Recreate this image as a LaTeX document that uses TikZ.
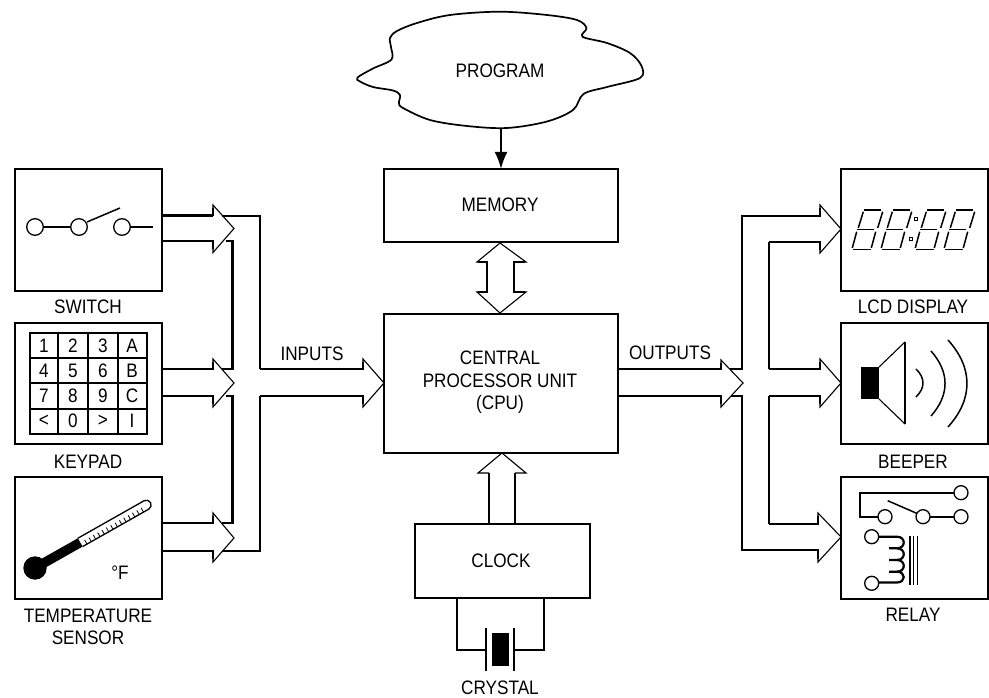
\documentclass[tikz,border=0pt]{standalone}
\usepackage{fontspec}
\setmainfont[FakeStretch=0.88]{Liberation Sans}
\usetikzlibrary{arrows.meta,calc}
\tikzset{
  boxy/.style={draw,line width=2.6pt,inner sep=0pt,outer sep=0pt,fill=white},
  lbl/.style={inner sep=0pt,outer sep=0pt,font=\fontsize{19.5}{22.5}\selectfont,align=center},
  bus/.style={line width=2.5pt,line cap=butt,line join=miter},
  hd/.style={line width=1.1pt,line join=miter},
  sym/.style={line width=2.2pt},
  thinsym/.style={line width=1.5pt},
  ring/.style={line width=1.3pt,fill=white},
  grid/.style={line width=1.2pt}
}
\newcommand{\boxnode}[5]{\node[boxy,minimum width={(#4-#2)*1pt},minimum height={(#5-#3)*1pt}] (#1) at ({(#2+#4)/2},{(#3+#5)/2}) {};}
% source, xback, yshaft-top, yshaft-bot, headtop, tip, headbot
\newcommand{\barrow}[7]{%
  \draw[bus] (#1 |- 0,#3) -- (#2,#3);
  \draw[bus] (#1 |- 0,#4) -- (#2,#4);
  \draw[hd] (#2,#3) -- (#2,#5) -- (#6) -- (#2,#7) -- (#2,#4);
  \draw[line width=1.8pt] (#2,#3+1) -- (#2,#5+3);
  \draw[line width=1.8pt] (#2,#4-1) -- (#2,#7-3);
}
\newcommand{\lcddigit}[1]{%
  \begin{scope}[xshift=#1pt,line width=1.5pt]
    \draw (864,210) -- (881,210);
    \draw (857,229.5) -- (874,229.5);
    \draw (853,249.3) -- (871,249.3);
    \draw (863.3,211.7) -- (858.3,228);
    \draw (882.7,211.7) -- (877.7,228);
    \draw (856.7,231.7) -- (852.3,248);
    \draw (875.7,231.7) -- (871.3,248);
  \end{scope}}
\begin{document}
\begin{tikzpicture}[x=1pt,y=-1pt]
\useasboundingbox (0,0) rectangle (989,698);
% boxes
\boxnode{sw}{15}{169}{162}{291}
\boxnode{kp}{15}{323}{162}{444}
\boxnode{ts}{15}{477}{162}{599}
\boxnode{mem}{384}{169}{618}{242}
\boxnode{cpu}{384}{314}{618}{453}
\boxnode{clk}{415}{524}{590}{598}
\boxnode{lcd}{841}{169}{988}{291}
\boxnode{bp}{841}{323}{988}{444}
\boxnode{rl}{841}{477}{988}{599}
% cloud
\draw[line width=1.7pt,fill=white] plot[smooth cycle,tension=0.55] coordinates {
 (357.5,77.5) (373,68.5) (391.5,59.5) (391,47) (390,38) (397,31) (417,23) (450,15) (500,11.7)
 (547,15) (577,20) (586.5,28) (582.5,36.7) (607,43) (630,53) (641.5,66) (640,78)
 (607,87) (583.5,94) (573,110) (547,121.5) (507,128) (467,126) (430,120) (403,108) (399,103) (400,95) (393,90.5) (373,87) (360,81.5)};
\node[lbl] (prog) at (500,70.5) {PROGRAM};
\coordinate (cloudbot) at (501,128);
\draw[line width=2.2pt,-{Latex[length=17pt,width=13pt]}] (cloudbot) -- (cloudbot |- mem.north);
% input arrows
\barrow{sw.east}{213}{215.5}{241}{205}{234,228.5}{252.5}
\barrow{kp.east}{213}{369}{396}{359}{234,383}{407}
\barrow{ts.east}{213}{523}{551}{513}{234,538}{562}
\barrow{260,0}{363}{369}{396}{359}{cpu.west |- 0,383}{407}
% bus wires in
\coordinate (oi1) at (222,216);
\coordinate (oi2) at (260,216);
\coordinate (oi3) at (260,369);
\coordinate (oi4) at (260,396);
\coordinate (oi5) at (260,551);
\coordinate (oi6) at (222,551);
\coordinate (ii1) at (226,241);
\coordinate (ii2) at (232.7,241);
\coordinate (ii3) at (232.7,369);
\coordinate (ii4) at (222,369);
\coordinate (ii5) at (226,396);
\coordinate (ii6) at (232.7,396);
\coordinate (ii7) at (232.7,523);
\coordinate (ii8) at (222,523);
\draw[bus] (oi1) -- (oi2) -- (oi3);
\draw[bus] (oi4) -- (oi5) -- (oi6);
\draw[bus] (ii1) -- (ii2) -- (ii3) -- (ii4);
\draw[bus] (ii5) -- (ii6) -- (ii7) -- (ii8);
% output arrows
\barrow{cpu.east}{721}{369}{396}{360}{743,383}{407}
\barrow{769,0}{820}{369}{396}{359}{bp.west |- 0,383}{407}
\barrow{769,0}{820}{216}{242}{205}{lcd.west |- 0,229}{253}
\barrow{769,0}{818}{524}{550}{513}{rl.west |- 0,537}{562}
\coordinate (oo1) at (730,369);
\coordinate (oo2) at (742,369);
\coordinate (oo3) at (742,216);
\coordinate (oo4) at (731,396);
\coordinate (oo5) at (742,396);
\coordinate (oo6) at (742,550);
\coordinate (oi7) at (769,242);
\coordinate (oi8) at (769,369);
\coordinate (oi9) at (769,396);
\coordinate (oi10) at (769,524);
\draw[bus] (oo1) -- (oo2) -- (oo3) -- (770,216);
\draw[bus] (oo4) -- (oo5) -- (oo6) -- (770,550);
\draw[bus] (oi7) -- (oi8);
\draw[bus] (oi9) -- (oi10);
% memory-cpu double arrow
\draw[hd] (500,243) -- (477,262) -- (487,262);
\draw[hd] (500,243) -- (526,262) -- (514,262);
\draw[hd] (500,313) -- (477,292) -- (487,292);
\draw[hd] (500,313) -- (526,292) -- (514,292);
\draw[bus] (478,262) -- (487,262) -- (487,292) -- (478,292);
\draw[bus] (525,262) -- (514,262) -- (514,292) -- (525,292);
% clock arrow
\draw[hd] (489,473) -- (478,473) -- (502,453) -- (526,473) -- (515,473);
\draw[bus] (489,473) -- (489,524);
\draw[bus] (515,473) -- (515,524);
% crystal
\coordinate (xl) at (457,598);
\coordinate (xr) at (544,598);
\draw[bus] (xl) -- (457,650) -- (486,650);
\draw[bus] (xr) -- (544,650) -- (514,650);
\draw[bus] (486,628) -- (486,671);
\draw[bus] (514,628) -- (514,671);
\fill (492,633) rectangle (509,666);
% text
\node[lbl] (memt) at (500,205) {MEMORY};
\node[lbl] (cput) at (500,382.5) {CENTRAL\\PROCESSOR UNIT\\(CPU)};
\node[lbl] (clkt) at (501,561) {CLOCK};
\node[lbl] (cryt) at (500,688) {CRYSTAL};
\node[lbl] (int) at (312,354) {INPUTS};
\node[lbl] (outt) at (670,353) {OUTPUTS};
\node[lbl] (swt) at (88,307) {SWITCH};
\node[lbl] (kpt) at (88,462) {KEYPAD};
\node[lbl] (tst) at (88,627) {TEMPERATURE\\SENSOR};
\node[lbl] (lcdt) at (913,307) {LCD DISPLAY};
\node[lbl] (bpt) at (913,462) {BEEPER};
\node[lbl] (rlt) at (913,615) {RELAY};
% switch symbol
\draw[sym] (43,227) -- (71,227);
\draw[sym] (131,227) -- (153,227);
\draw[thinsym] (87,222) -- (120,208);
\draw[ring] (35,227) circle (8.3);
\draw[ring] (79,227) circle (8.3);
\draw[ring] (122,227) circle (8.3);
% keypad
\draw[grid] (58,333) -- (58,434) (88,333) -- (88,434) (118,333) -- (118,434);
\draw[grid] (30,358) -- (147,358) (30,383) -- (147,383) (30,409) -- (147,409);
\draw[line width=2.2pt] (30,333) rectangle (147,434);
\foreach \t/\x/\y in {1/44/346,2/73/346,3/103/346,A/132/346,
  4/44/371,5/73/371,6/103/371,B/132/371,
  7/44/396,8/73/396,9/103/396,C/132/396,
  </44/421,0/73/421,>/103/421,I/132/421}
  \node[lbl] at (\x,\y) {\t};
% thermometer
\begin{scope}[shift={(35,568)},rotate=29.5]
  \draw[line width=1.3pt,fill=white] (52,-4.8) -- (128,-4.8) arc[start angle=-90,end angle=90,radius=4.8] -- (52,4.8);
  \fill (0,-4.8) rectangle (52,4.8);
  \foreach \s in {57,62,...,123} \draw[line width=0.8pt] (\s,5) -- (\s,0);
\end{scope}
\fill (35,568) circle (11.7);
\node[lbl] (deg) at (120,573) {°F};
% LCD
\lcddigit{0}
\lcddigit{29}
\lcddigit{63}
\lcddigit{92}
\draw[line width=1pt] (914.5,217.5) rectangle +(3,3);
\draw[line width=1pt] (909.5,237.2) rectangle +(3,3);
% beeper
\fill (861,367) rectangle (879,399);
\draw[line width=1.1pt] (879,367) -- (905,342);
\draw[line width=1.1pt] (879,399) -- (905,424);
\draw[line width=1.5pt] (905,342) -- (905,424);
\draw[line width=1.5pt] (916,369) .. controls (925.3,378) and (925.3,388) .. (916,397);
\draw[line width=1.5pt] (931,351) .. controls (949.7,372) and (949.7,395) .. (931,416);
\draw[line width=1.5pt] (948,340) .. controls (973.3,368) and (973.3,399) .. (948,427);
% relay
\draw[sym] (954,492.7) -- (860,492.7) -- (860,516.7) -- (878,516.7);
\draw[sym] (930,516.7) -- (954,516.7);
\draw[thinsym] (887.7,500.7) -- (916.7,513.3);
\draw[sym] (878,536.7) -- (897,536.7) .. controls (906,536.7) and (906,548.3) .. (897,548.3) -- (889,548.3);
\draw[sym] (897,548.3) .. controls (906,548.3) and (906,560) .. (897,560) -- (889,560);
\draw[sym] (897,560) .. controls (906,560) and (906,571.7) .. (897,571.7) -- (889,571.7);
\draw[sym] (897,571.7) .. controls (906,571.7) and (906,582.5) .. (897,582.5) -- (878,582.5);
\draw[line width=1.3pt] (910,536) -- (910,585) (913.7,536) -- (913.7,585) (917.3,536) -- (917.3,585);
\foreach \x/\y in {961/492.7,961/516.7,923/516.7,885/516.7,871.7/536.7,871.7/583.3}
  \draw[ring] (\x,\y) circle (7);
\end{tikzpicture}
\end{document}
